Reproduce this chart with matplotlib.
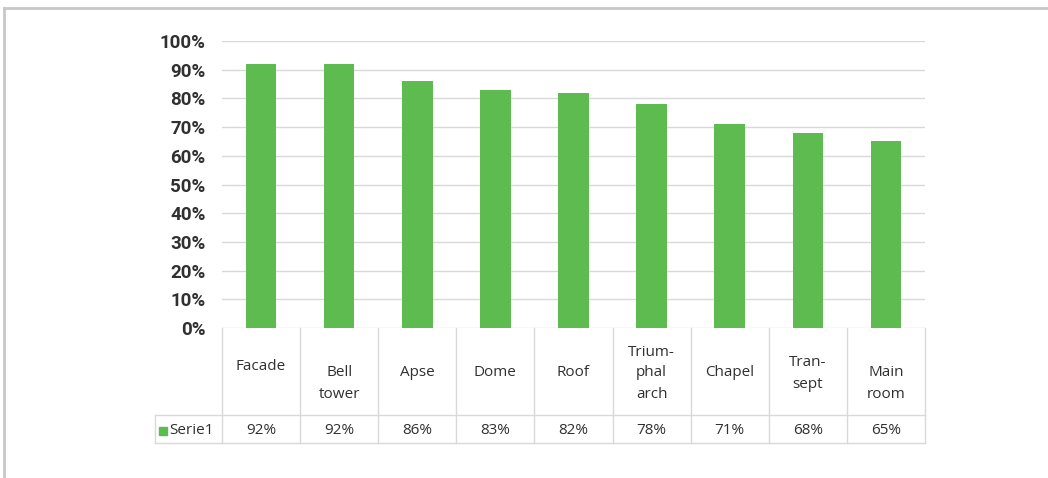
import matplotlib
matplotlib.use("Agg")
import matplotlib.pyplot as plt
from matplotlib.lines import Line2D
from matplotlib.patches import Rectangle

categories = ["Facade", "Bell\ntower", "Apse", "Dome", "Roof",
              "Trium-\nphal\narch", "Chapel", "Tran-\nsept", "Main\nroom"]
values = [92, 92, 86, 83, 82, 78, 71, 68, 65]
value_labels = ["92%", "92%", "86%", "83%", "82%", "78%", "71%", "68%", "65%"]
series_name = "Serie1"
yticks = [0, 10, 20, 30, 40, 50, 60, 70, 80, 90, 100]

# style / layout (pixels)
W, H = 1048, 478
GREEN = "#5DBB4F"
GRID = "#d9d9d9"
label_top_px = [367, 373, 373, 373, 373, 352, 373, 363, 373]
line_px = 21

fig = plt.figure(figsize=(W / 100, H / 100), dpi=100)
fig.patch.set_facecolor("white")

def fx(px):
    return px / W

def fy(py):
    return 1 - py / H

# main axes
L, R, T, B = 222, 925, 41, 328
ax = fig.add_axes([fx(L), fy(B), fx(R - L), (B - T) / H])
n = len(categories)
ax.bar(range(n), values, width=0.39, color=GREEN, zorder=3)
ax.set_xlim(-0.5, n - 0.5)
ax.set_ylim(0, 100)
ax.set_yticks(yticks)
ax.set_yticklabels([f"{t}%" for t in yticks], fontsize=13.5, color="#303030",
                   fontweight="bold", family=["Roboto", "DejaVu Sans"])
ax.tick_params(axis="y", length=0, pad=12)
ax.set_xticks([])
for s in ax.spines.values():
    s.set_visible(False)
ax.grid(axis="y", color=GRID, linewidth=1, zorder=0)
ax.set_axisbelow(True)

# table (drawn in figure pixel coordinates)
tab_top, row_split, tab_bot = 328, 415, 443
leg_left = 155
colw = (R - L) / n
fkw = dict(transform=fig.transFigure, color=GRID, linewidth=1)
fig.add_artist(Line2D([fx(leg_left), fx(R)], [fy(row_split)] * 2, **fkw))
fig.add_artist(Line2D([fx(leg_left), fx(R)], [fy(tab_bot)] * 2, **fkw))
for i in range(n + 1):
    x = L + i * colw
    fig.add_artist(Line2D([fx(x)] * 2, [fy(tab_top), fy(tab_bot)], **fkw))
fig.add_artist(Line2D([fx(leg_left)] * 2, [fy(row_split), fy(tab_bot)], **fkw))

tkw = dict(transform=fig.transFigure, fontsize=11, color="#303030",
           family=["Open Sans", "DejaVu Sans"], ha="center")
for i, (cat, val) in enumerate(zip(categories, value_labels)):
    cx = L + (i + 0.5) * colw
    for j, line in enumerate(cat.split("\n")):
        fig.text(fx(cx), fy(label_top_px[i] + j * line_px), line, va="center", **tkw)
    fig.text(fx(cx), fy(430), val, va="center", fontweight="medium", **tkw)

# legend cell
fig.add_artist(Rectangle((fx(159), fy(435)), fx(8), 8 / H,
                         transform=fig.transFigure, color=GREEN))
fig.text(fx(169), fy(430), series_name, transform=fig.transFigure, fontsize=11,
         color="#303030", fontweight="medium", family=["Open Sans", "DejaVu Sans"],
         ha="left", va="center")

# outer frame
bkw = dict(transform=fig.transFigure, color="#c8c8c8", linewidth=2)
fig.add_artist(Line2D([fx(4), 1], [fy(8), fy(8)], **bkw))
fig.add_artist(Line2D([fx(4), fx(4)], [fy(8), 0], **bkw))

fig.savefig("out.png", dpi=100, facecolor="white")
